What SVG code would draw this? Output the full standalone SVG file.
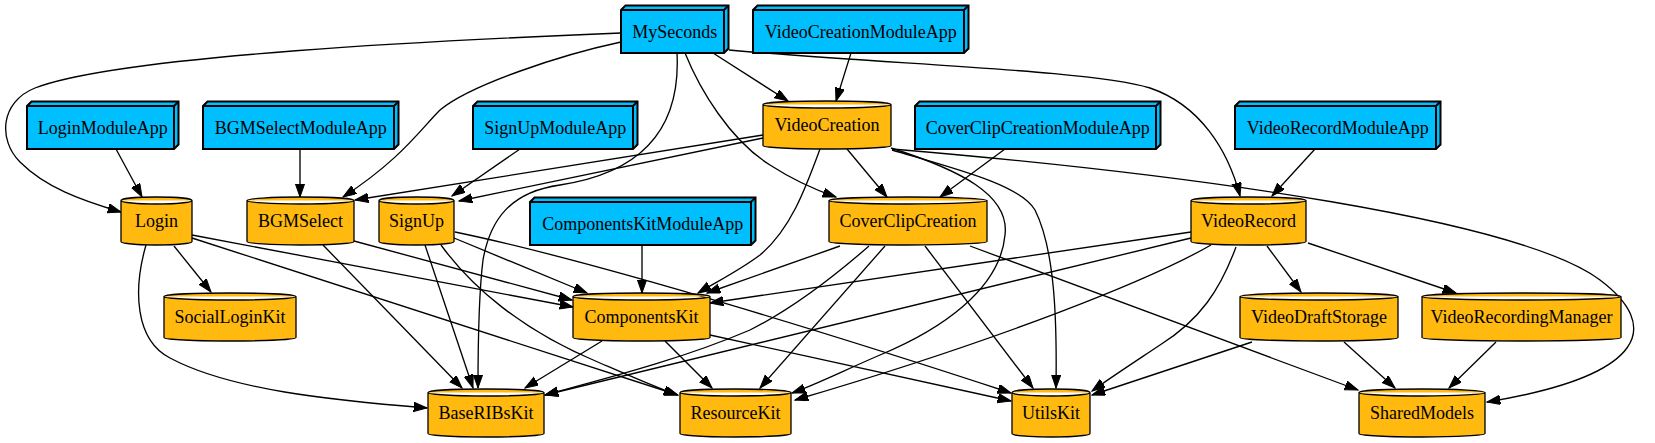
<svg xmlns="http://www.w3.org/2000/svg" width="1655" height="443" viewBox="0 0 1655 443">
<style>
.app{fill:#00bfff;stroke:#000;stroke-width:2}
.app3{fill:none;stroke:#000;stroke-width:2}
.cyl{fill:#ffb90f;stroke:#000;stroke-width:1.3}
text{font-family:"Liberation Serif","Times New Roman",serif;font-size:18px;fill:#000;text-anchor:middle}
.e path{fill:none;stroke:#000;stroke-width:1.33;marker-end:url(#arr)}
</style>
<defs>
<marker id="arr" markerUnits="userSpaceOnUse" markerWidth="15" markerHeight="11" refX="13.3" refY="4.67" orient="auto" viewBox="0 0 15 11">
<path d="M0,0 L13.3,4.67 L0,9.33 Z" fill="#000" stroke="#000" stroke-width="1"/>
</marker>
</defs>
<rect width="1655" height="443" fill="#fff"/>

<g id="edges" class="e">
<path d="M116,149 L142,197"/>
<path d="M300,149 L300,197"/>
<path d="M520,149 L452,196"/>
<path d="M763,138 L459,201"/>
<path d="M763,135 L355,200"/>
<path d="M621,33 C450,40 120,55 35,88 C0,102 -2,140 20,162 C45,187 80,200 121,212"/>
<path d="M621,42 C560,55 470,85 440,110 C420,130 400,160 343,197"/>
<path d="M677,53 C680,110 660,170 560,185 C510,192 490,220 483,260 C478,300 478,350 478,388"/>
<path d="M713,53 L788,101"/>
<path d="M851,53 L836,101"/>
<path d="M685,53 C700,90 730,140 770,165 C790,178 810,188 836,197"/>
<path d="M729,50 C900,65 1090,70 1150,88 C1200,105 1228,150 1240,196"/>
<path d="M847,149 L887,197"/>
<path d="M1005,149 L940,197"/>
<path d="M820,149 C805,190 790,230 760,255 C740,270 720,280 698,293"/>
<path d="M891,148 C960,170 1010,195 1005,235 C1000,290 940,330 880,355 C845,370 815,385 792,393"/>
<path d="M892,150 C960,170 1020,185 1035,210 C1055,250 1057,320 1056,388"/>
<path d="M892,149 C1200,175 1520,220 1600,280 C1660,325 1650,375 1487,402"/>
<path d="M174,246 L211,292"/>
<path d="M146,245 C133,290 135,340 170,358 C230,390 330,400 427,408"/>
<path d="M192,235 L573,307"/>
<path d="M192,238 L678,395"/>
<path d="M441,245 C470,285 520,330 600,363 C630,376 655,387 677,395"/>
<path d="M425,245 L473,388"/>
<path d="M455,232 C600,262 850,340 1011,393"/>
<path d="M454,238 L587,293"/>
<path d="M354,241 L572,300"/>
<path d="M323,245 L462,388"/>
<path d="M642,245 L642,293"/>
<path d="M840,246 L707,293"/>
<path d="M869,246 C830,280 790,310 750,330 C680,360 600,380 545,395"/>
<path d="M885,246 L760,388"/>
<path d="M925,246 L1033,388"/>
<path d="M970,246 L1358,390"/>
<path d="M602,341 L525,388"/>
<path d="M665,341 L712,388"/>
<path d="M710,335 L1011,401"/>
<path d="M1315,149 L1272,196"/>
<path d="M1267,246 L1301,292"/>
<path d="M1308,243 L1456,293"/>
<path d="M1236,247 C1220,290 1200,320 1160,345 C1130,365 1110,378 1092,391"/>
<path d="M1252,342 L1092,395"/>
<path d="M1344,342 L1395,388"/>
<path d="M1496,342 L1449,388"/>
<path d="M1191,232 L710,303"/>
<path d="M1191,238 L545,395"/>
<path d="M1211,245 C1150,280 1000,340 795,400"/>
</g>

<g font-family="Liberation Serif, Times New Roman, serif" font-size="18">
<g id="MySeconds">
<polygon class="app" points="621,10 625.5,5.5 728.5,5.5 728.5,48.5 724,53 621,53"/>
<polyline class="app3" points="621,10 724,10 724,53"/><line class="app3" x1="724" y1="10" x2="728.5" y2="5.5"/>
<text x="674.7" y="37.5">MySeconds</text>
</g>
<g id="VideoCreationModuleApp">
<polygon class="app" points="753,10 757.5,5.5 968.5,5.5 968.5,48.5 964,53 753,53"/>
<polyline class="app3" points="753,10 964,10 964,53"/><line class="app3" x1="964" y1="10" x2="968.5" y2="5.5"/>
<text x="860.7" y="37.5">VideoCreationModuleApp</text>
</g>
<g id="LoginModuleApp">
<polygon class="app" points="27,106 31.5,101.5 178.5,101.5 178.5,144.5 174,149 27,149"/>
<polyline class="app3" points="27,106 174,106 174,149"/><line class="app3" x1="174" y1="106" x2="178.5" y2="101.5"/>
<text x="102.7" y="133.5">LoginModuleApp</text>
</g>
<g id="BGMSelectModuleApp">
<polygon class="app" points="203,106 207.5,101.5 398.5,101.5 398.5,144.5 394,149 203,149"/>
<polyline class="app3" points="203,106 394,106 394,149"/><line class="app3" x1="394" y1="106" x2="398.5" y2="101.5"/>
<text x="300.7" y="133.5">BGMSelectModuleApp</text>
</g>
<g id="SignUpModuleApp">
<polygon class="app" points="473,106 477.5,101.5 637.5,101.5 637.5,144.5 633,149 473,149"/>
<polyline class="app3" points="473,106 633,106 633,149"/><line class="app3" x1="633" y1="106" x2="637.5" y2="101.5"/>
<text x="555.2" y="133.5">SignUpModuleApp</text>
</g>
<g id="CoverClipCreationModuleApp">
<polygon class="app" points="915,106 919.5,101.5 1160.5,101.5 1160.5,144.5 1156,149 915,149"/>
<polyline class="app3" points="915,106 1156,106 1156,149"/><line class="app3" x1="1156" y1="106" x2="1160.5" y2="101.5"/>
<text x="1037.7" y="133.5">CoverClipCreationModuleApp</text>
</g>
<g id="VideoRecordModuleApp">
<polygon class="app" points="1235,106 1239.5,101.5 1440.5,101.5 1440.5,144.5 1436,149 1235,149"/>
<polyline class="app3" points="1235,106 1436,106 1436,149"/><line class="app3" x1="1436" y1="106" x2="1440.5" y2="101.5"/>
<text x="1337.7" y="133.5">VideoRecordModuleApp</text>
</g>
<g id="ComponentsKitModuleApp">
<polygon class="app" points="530,202 534.5,197.5 755.5,197.5 755.5,240.5 751,245 530,245"/>
<polyline class="app3" points="530,202 751,202 751,245"/><line class="app3" x1="751" y1="202" x2="755.5" y2="197.5"/>
<text x="642.7" y="229.5">ComponentsKitModuleApp</text>
</g>

<g id="VideoCreation">
<path class="cyl" d="M763,104.5 A64,3.5 0 0 1 891,104.5 A64,3.5 0 0 1 763,104.5 V145.5 A64,3.5 0 0 0 891,145.5 V104.5"/>
<text x="827" y="131">VideoCreation</text>
</g>
<g id="Login">
<path class="cyl" d="M121,200.5 A35.5,3.5 0 0 1 192,200.5 A35.5,3.5 0 0 1 121,200.5 V241.5 A35.5,3.5 0 0 0 192,241.5 V200.5"/>
<text x="156.5" y="227">Login</text>
</g>
<g id="BGMSelect">
<path class="cyl" d="M247,200.5 A53.5,3.5 0 0 1 354,200.5 A53.5,3.5 0 0 1 247,200.5 V241.5 A53.5,3.5 0 0 0 354,241.5 V200.5"/>
<text x="300.5" y="227">BGMSelect</text>
</g>
<g id="SignUp">
<path class="cyl" d="M379,200.5 A37.5,3.5 0 0 1 454,200.5 A37.5,3.5 0 0 1 379,200.5 V241.5 A37.5,3.5 0 0 0 454,241.5 V200.5"/>
<text x="416.5" y="227">SignUp</text>
</g>
<g id="CoverClipCreation">
<path class="cyl" d="M829,200.5 A79,3.5 0 0 1 987,200.5 A79,3.5 0 0 1 829,200.5 V241.5 A79,3.5 0 0 0 987,241.5 V200.5"/>
<text x="908" y="227">CoverClipCreation</text>
</g>
<g id="VideoRecord">
<path class="cyl" d="M1191,200.5 A57.5,3.5 0 0 1 1306,200.5 A57.5,3.5 0 0 1 1191,200.5 V241.5 A57.5,3.5 0 0 0 1306,241.5 V200.5"/>
<text x="1248.5" y="227">VideoRecord</text>
</g>
<g id="SocialLoginKit">
<path class="cyl" d="M164,296.5 A66,3.5 0 0 1 296,296.5 A66,3.5 0 0 1 164,296.5 V337.5 A66,3.5 0 0 0 296,337.5 V296.5"/>
<text x="230" y="323">SocialLoginKit</text>
</g>
<g id="ComponentsKit">
<path class="cyl" d="M573,296.5 A68.5,3.5 0 0 1 710,296.5 A68.5,3.5 0 0 1 573,296.5 V337.5 A68.5,3.5 0 0 0 710,337.5 V296.5"/>
<text x="641.5" y="323">ComponentsKit</text>
</g>
<g id="VideoDraftStorage">
<path class="cyl" d="M1240,296.5 A79,3.5 0 0 1 1398,296.5 A79,3.5 0 0 1 1240,296.5 V337.5 A79,3.5 0 0 0 1398,337.5 V296.5"/>
<text x="1319" y="323">VideoDraftStorage</text>
</g>
<g id="VideoRecordingManager">
<path class="cyl" d="M1422,296.5 A99.5,3.5 0 0 1 1621,296.5 A99.5,3.5 0 0 1 1422,296.5 V337.5 A99.5,3.5 0 0 0 1621,337.5 V296.5"/>
<text x="1521.5" y="323">VideoRecordingManager</text>
</g>
<g id="BaseRIBsKit">
<path class="cyl" d="M428,392.5 A58,3.5 0 0 1 544,392.5 A58,3.5 0 0 1 428,392.5 V433.5 A58,3.5 0 0 0 544,433.5 V392.5"/>
<text x="486" y="419">BaseRIBsKit</text>
</g>
<g id="ResourceKit">
<path class="cyl" d="M680,392.5 A55.5,3.5 0 0 1 791,392.5 A55.5,3.5 0 0 1 680,392.5 V433.5 A55.5,3.5 0 0 0 791,433.5 V392.5"/>
<text x="735.5" y="419">ResourceKit</text>
</g>
<g id="UtilsKit">
<path class="cyl" d="M1012,392.5 A39,3.5 0 0 1 1090,392.5 A39,3.5 0 0 1 1012,392.5 V433.5 A39,3.5 0 0 0 1090,433.5 V392.5"/>
<text x="1051" y="419">UtilsKit</text>
</g>
<g id="SharedModels">
<path class="cyl" d="M1359,392.5 A63,3.5 0 0 1 1485,392.5 A63,3.5 0 0 1 1359,392.5 V433.5 A63,3.5 0 0 0 1485,433.5 V392.5"/>
<text x="1422" y="419">SharedModels</text>
</g>
</g>
</svg>
